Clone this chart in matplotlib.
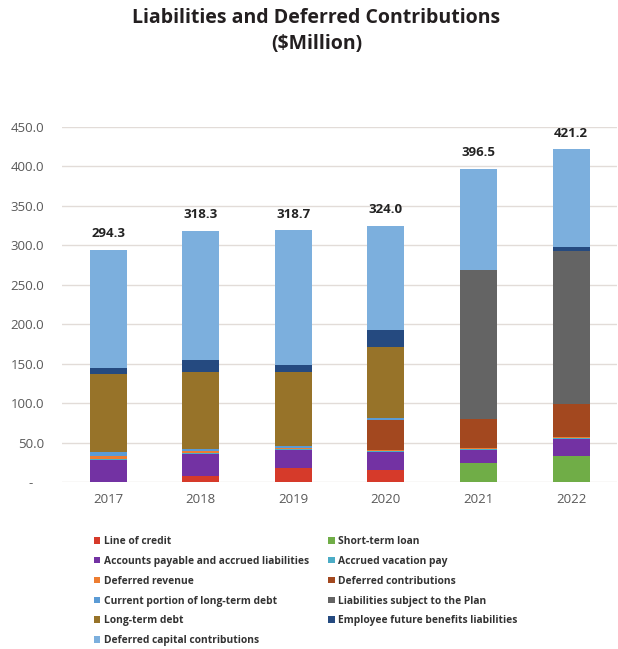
import matplotlib
matplotlib.use("Agg")
import matplotlib.pyplot as plt
from matplotlib.patches import Patch
import numpy as np

years = ["2017", "2018", "2019", "2020", "2021", "2022"]

line_of_credit = [0.0, 8.0, 18.0, 15.0, 0.0, 0.0]
short_term_loan = [0.0, 0.0, 0.0, 0.0, 24.0, 33.0]
accounts_payable = [28.0, 27.5, 23.0, 23.0, 17.0, 21.5]
accrued_vacation = [1.0, 1.0, 1.0, 1.0, 1.0, 1.0]
deferred_revenue = [4.0, 3.0, 1.0, 1.5, 1.0, 2.0]
deferred_contrib = [0.0, 0.0, 0.0, 38.0, 37.0, 41.0]
current_ltd = [5.0, 3.0, 3.5, 3.0, 0.0, 0.0]
plan_liabilities = [0.0, 0.0, 0.0, 0.0, 188.0, 194.0]
long_term_debt = [99.5, 97.0, 92.5, 89.5, 0.0, 0.0]
employee_benefits = [7.0, 15.0, 9.0, 22.0, 0.0, 5.0]
deferred_capital = [149.8, 163.8, 170.7, 131.0, 128.5, 123.7]

series_names = [
    "Line of credit",
    "Short-term loan",
    "Accounts payable and accrued liabilities",
    "Accrued vacation pay",
    "Deferred revenue",
    "Deferred contributions",
    "Current portion of long-term debt",
    "Liabilities subject to the Plan",
    "Long-term debt",
    "Employee future benefits liabilities",
    "Deferred capital contributions",
]
series_values = [
    line_of_credit, short_term_loan, accounts_payable, accrued_vacation,
    deferred_revenue, deferred_contrib, current_ltd, plan_liabilities,
    long_term_debt, employee_benefits, deferred_capital,
]
series_colors = [
    "#d63a2a", "#70ad47", "#7332a3", "#4bacc6", "#ed7d31", "#a3481f",
    "#5b9bd5", "#646464", "#977329", "#254a80", "#7cafdd",
]

yticks = [0, 50, 100, 150, 200, 250, 300, 350, 400, 450]
ytick_labels = ["-   ", "50.0", "100.0", "150.0", "200.0", "250.0",
                "300.0", "350.0", "400.0", "450.0"]

title_lines = ["Liabilities and Deferred Contributions", "($Million)"]

base_font = "Open Sans"

fig = plt.figure(figsize=(6.18, 6.49), dpi=100)
ax = fig.add_axes([62 / 618, 166.7 / 649, 555.3 / 618, 355.8 / 649])

x = np.arange(len(years))
bottom = np.zeros(len(years))
handles = []
for name, vals, col in zip(series_names, series_values, series_colors):
    v = np.array(vals)
    ax.bar(x, v, width=0.4, bottom=bottom, color=col, linewidth=0, zorder=3)
    bottom += v
    handles.append(Patch(facecolor=col, edgecolor="none", label=name))

for xi, total in zip(x, bottom):
    ax.annotate(f"{total:.1f}", (xi, total), xytext=(0, 7),
                textcoords="offset points", ha="center", va="bottom",
                fontsize=9.5, fontweight="bold", color="#222222",
                family=base_font)

ax.set_xlim(-0.5, len(years) - 0.5)
ax.set_ylim(0, 450)
ax.set_yticks(yticks)
ax.set_yticklabels(ytick_labels, family=base_font, fontsize=9.5, color="#595959")
ax.set_xticks(x)
ax.set_xticklabels(years, family=base_font, fontsize=9.5, color="#595959")
ax.tick_params(axis="both", length=0)
ax.tick_params(axis="y", pad=13)
ax.tick_params(axis="x", pad=8)
ax.grid(axis="y", color="#e2dcd8", linewidth=1.0, zorder=0)
for s in ax.spines.values():
    s.set_visible(False)

for i, line in enumerate(title_lines):
    fig.text(0.512, 1 - (18 + 26 * i) / 649, line, ha="center", va="center",
             fontsize=14, fontweight="bold", color="#231f20", family=base_font)

# two-column legend read row by row
order = [0, 2, 4, 6, 8, 10, 1, 3, 5, 7, 9]
leg = fig.legend([handles[i] for i in order], [series_names[i] for i in order],
                 ncol=2, loc="upper left", bbox_to_anchor=(94 / 618, 1 - 536 / 649),
                 frameon=False, handlelength=0.6, handleheight=0.6,
                 handletextpad=0.35, columnspacing=1.9, labelspacing=0.86,
                 borderpad=0, borderaxespad=0,
                 prop={"family": base_font, "weight": "bold", "size": 7.4})
for t in leg.get_texts():
    t.set_color("#333333")

fig.savefig("out.png", dpi=100, facecolor="white")
